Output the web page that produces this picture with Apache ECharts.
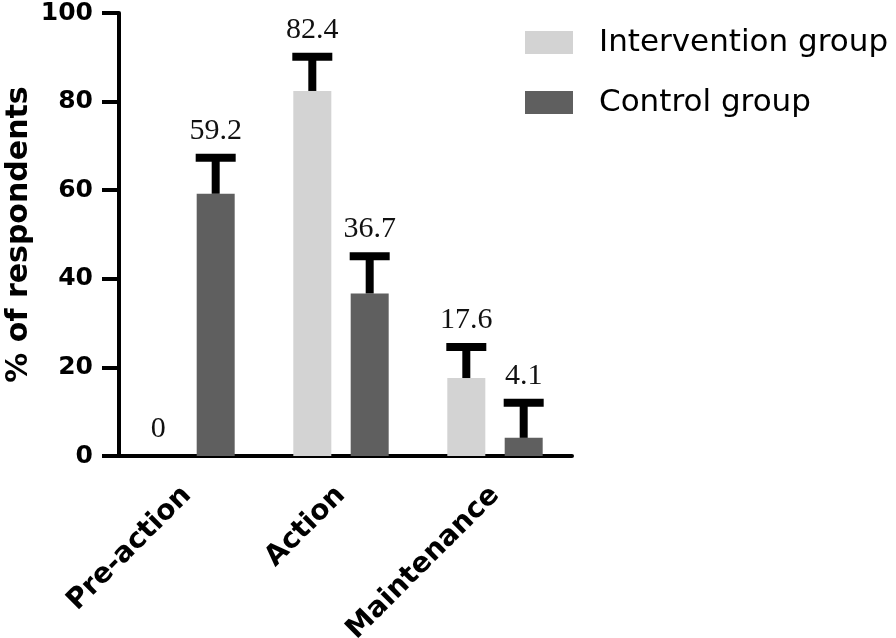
<!DOCTYPE html>
<html>
<head>
<meta charset="utf-8">
<script src="https://cdn.jsdelivr.net/npm/echarts@6/dist/echarts.min.js"></script>
<style>
html,body{margin:0;padding:0;background:#fff;}
#chart{width:896px;height:638px;}
</style>
</head>
<body>
<div id="chart"></div>
<script>
// ---- data ----
var categories = ['Pre-action', 'Action', 'Maintenance'];
var seriesNames = ['Intervention group', 'Control group'];
var interventionValues = [0, 82.4, 17.6];
var controlValues = [59.2, 36.7, 4.1];
var interventionErrors = [0, 7.7, 7.0];
var controlErrors = [8.1, 8.4, 7.9];
var yMin = 0, yMax = 100, yStep = 20;

// ---- style constants ----
var BAR_W = 38;
var BAR_GAP = 0.51;
var OFFSET = (BAR_W + BAR_W * BAR_GAP) / 2;
var colors = ['#d3d3d3', '#5f5f5f'];

function errItems(vals, errs) {
  return vals.map(function (v, i) { return [i, v, errs[i]]; });
}

function makeErrRender(sign) {
  return function (params, api) {
    var cat = api.value(0), v = api.value(1), e = api.value(2);
    var p0 = api.coord([cat, v]);
    var p1 = api.coord([cat, v + e]);
    var x = p0[0] + sign * OFFSET;
    var children = [];
    if (e > 0) {
      children.push({
        type: 'line',
        shape: { x1: x, y1: p0[1], x2: x, y2: p1[1] },
        style: { stroke: '#000', lineWidth: 8 }
      });
      children.push({
        type: 'line',
        shape: { x1: x - 20, y1: p1[1], x2: x + 20, y2: p1[1] },
        style: { stroke: '#000', lineWidth: 8 }
      });
    }
    children.push({
      type: 'text',
      style: {
        text: String(v),
        x: x,
        y: p1[1] - 27,
        align: 'center',
        verticalAlign: 'middle',
        fontFamily: '"Liberation Serif", "Times New Roman", serif',
        fontSize: 30,
        fill: '#111'
      }
    });
    return { type: 'group', children: children };
  };
}

var chart = echarts.init(document.getElementById('chart'));
chart.setOption({
  animation: false,
  backgroundColor: '#fff',
  grid: { left: 110, width: 462, top: 13, bottom: 182, containLabel: false, outerBoundsMode: 'none' },
  legend: {
    orient: 'vertical',
    left: 520,
    top: 22,
    itemWidth: 48,
    itemHeight: 23,
    itemGap: 29,
    icon: 'rect',
    data: seriesNames,
    textStyle: {
      fontFamily: '"DejaVu Sans", sans-serif',
      fontSize: 31,
      lineHeight: 31,
      color: '#000',
      padding: [0, 0, 0, 21]
    }
  },
  xAxis: {
    type: 'category',
    data: categories,
    axisLine: { lineStyle: { color: '#000', width: 4 } },
    axisTick: { alignWithLabel: true, length: 16, lineStyle: { color: '#000', width: 4 } },
    axisLabel: {
      rotate: 45,
      margin: 35,
      color: '#000',
      fontFamily: '"DejaVu Sans", sans-serif',
      fontWeight: 'bold',
      fontSize: 28
    }
  },
  yAxis: {
    type: 'value',
    min: yMin,
    max: yMax,
    interval: yStep,
    offset: -9,
    name: '% of respondents',
    nameLocation: 'middle',
    nameGap: 85,
    nameRotate: 90,
    nameMoveOverlap: false,
    nameTextStyle: {
      fontFamily: '"DejaVu Sans", sans-serif',
      fontWeight: 'bold',
      fontSize: 30,
      color: '#000'
    },
    splitLine: { show: false },
    axisLine: { show: true, lineStyle: { color: '#000', width: 4 } },
    axisTick: { show: true, length: 17, lineStyle: { color: '#000', width: 4 } },
    axisLabel: {
      margin: 26,
      color: '#000',
      fontFamily: '"DejaVu Sans", sans-serif',
      fontWeight: 'bold',
      fontSize: 25
    }
  },
  series: [
    {
      name: seriesNames[0], type: 'bar', data: interventionValues,
      barWidth: BAR_W, barGap: (BAR_GAP * 100) + '%',
      itemStyle: { color: colors[0] }
    },
    {
      name: seriesNames[1], type: 'bar', data: controlValues,
      barWidth: BAR_W, barGap: (BAR_GAP * 100) + '%',
      itemStyle: { color: colors[1] }
    },
    {
      type: 'custom', name: 'errI', data: errItems(interventionValues, interventionErrors),
      renderItem: makeErrRender(-1), z: 10
    },
    {
      type: 'custom', name: 'errC', data: errItems(controlValues, controlErrors),
      renderItem: makeErrRender(1), z: 10
    }
  ]
});
</script>
</body>
</html>
